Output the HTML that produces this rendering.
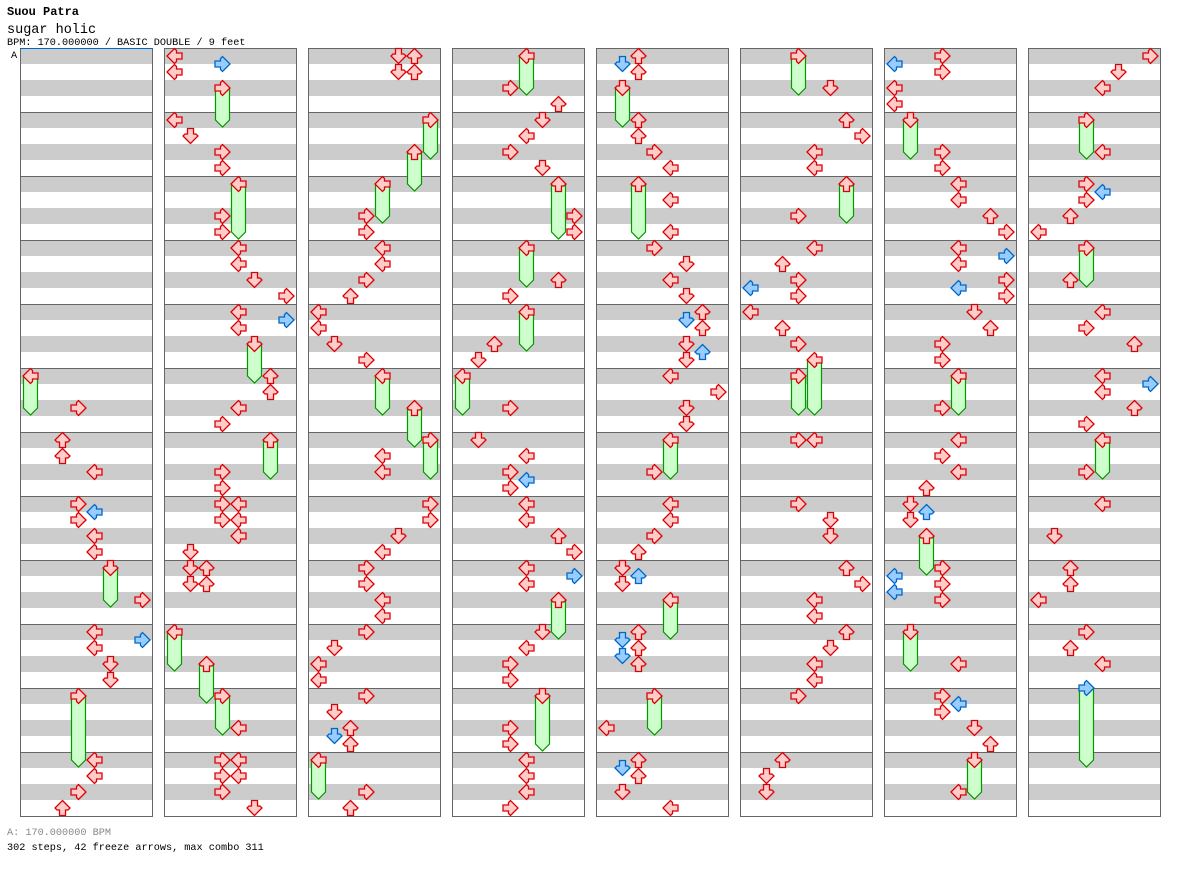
<!DOCTYPE html>
<html><head><meta charset="utf-8"><style>
html,body{margin:0;padding:0;background:#fff;}
svg{display:block;}
text{font-family:"Liberation Mono",monospace;}
</style></head><body>
<svg id="chart" width="1184" height="876" viewBox="0 0 1184 876" xmlns="http://www.w3.org/2000/svg">
<text x="7" y="15" font-size="12" font-weight="bold" fill="#000">Suou Patra</text>
<text x="7" y="33" font-size="13.5" fill="#000">sugar holic</text>
<text x="7" y="45" font-size="10.2" fill="#000">BPM: 170.000000 / BASIC DOUBLE / 9 feet</text>
<text x="11" y="58" font-size="10.2" fill="#000">A</text>
<text x="7" y="835" font-size="10.2" fill="#888">A: 170.000000 BPM</text>
<text x="7" y="850" font-size="10.2" fill="#000">302 steps, 42 freeze arrows, max combo 311</text>
<g id="cols" shape-rendering="crispEdges"></g><g id="frz"></g><g id="arr"></g>
</svg>
<script>
const noteBeats=[22,24,25,26,28,28.5,29,30,31,34,36,36.5,37,38,39,44,45,46,47,
48,48.5,49,52,53,54,55,58,59,60,61,62,63,64,64.5,65,68,69,70,71,74,75,76,76,77,77,78,79,80,80,81,81,90,92,92,93,93,94,95,
96,96,97,97,106,107,108,109,110,111,112,113,114,115,121,122,124,125,126,127,128,129,130,131,132,133,134,135,136,137,138,138.5,139,142,143,
146,147,148,149,150,151,154,155,158,159,162,163,166,168,169,170,170.5,171,172,173,174,175,176,176.5,177,180,181,182,183,186,187,188,189,190,191,
192,192.5,193,196,197,198,199,201,203,204,205,206,207,208,208.5,209,210,210.5,211,212,213,214,215,218,220,221,222,223,224,224.5,225,228,228.5,229,229.5,230,234,236,236.5,237,238,239,
242,244,245,246,247,250,252,253,254,254.5,255,256,257,258,264,264,268,269,270,272,273,274,275,276,277,278,279,280,284,285,286,
288,288.5,289,290,291,294,295,296,297,298,299,300,300.5,301,302,302.5,303,304,305,306,307,310,312,313,314,315,316,316.5,317,320,320.5,321,321.5,322,326,328,328.5,329,330,331,334,
336,337,338,342,344,344.5,345,346,347,350,352,353,354,356,356.5,357,358,359,362,364,366,368,369,370,372,373,374];
const noteLanes=[3,2,2,4,3,4,3,4,4,7,4,7,4,5,5,4,4,3,2,
0,3,0,0,1,3,3,3,3,4,4,5,7,4,7,4,6,6,4,3,3,3,3,4,3,4,4,1,1,2,1,2,4,3,4,3,4,3,5,
5,6,5,6,3,3,4,4,3,2,0,0,1,3,4,4,7,7,5,4,3,3,4,4,3,1,0,0,3,1,2,1,2,3,2,
3,6,5,4,3,5,7,7,6,3,2,1,3,1,4,3,4,3,4,4,6,7,4,7,4,5,4,3,3,3,3,4,4,4,3,
2,1,2,2,2,3,4,4,4,3,5,4,5,6,5,6,5,6,5,4,7,5,5,3,4,4,3,2,1,2,1,2,1,2,1,2,0,2,1,2,1,4,
5,6,7,4,4,3,4,2,3,0,3,0,2,3,3,4,3,5,5,6,7,4,4,6,5,4,4,3,2,1,1,
3,0,3,0,0,3,3,4,4,6,7,4,7,4,7,4,7,5,6,3,3,3,4,3,4,2,1,2,1,3,0,3,0,3,4,3,4,3,5,6,4,
7,5,4,4,3,4,3,2,0,2,4,3,6,4,7,4,6,3,3,4,1,2,2,0,3,2,4];
const freezeBeats=[20,32,40,50,56,66,72,84,86,88,100,102,104,116,118,120,140,144,152,156,160,164,178,184,194,200,216,226,232,240,248,259,260,292,308,318,324,332,340,348,360,375.5];
const freezeLanes=[0,5,3,3,4,5,6,0,2,3,7,6,4,4,6,7,0,4,6,4,4,0,6,5,1,2,4,4,3,3,6,4,3,1,4,2,1,5,3,3,4,3];
const freezeLens=[2,2,4,2,3,2,2,2,2,2,2,2,2,2,2,2,2,2,3,2,2,2,2,3,2,3,2,2,2,2,2,3,2,2,2,2,2,2,2,2,2,4.5];

const NS='http://www.w3.org/2000/svg';
const COLS=8, BEATS_PER_COL=48;
function colX(c){return 20+144*c;}
function xOf(beat,lane){return colX(Math.floor(beat/BEATS_PER_COL))+10.5+16*lane;}
function yOf(beat){return 56+16*(beat%BEATS_PER_COL);}
const rot=[-90,180,0,90,-90,180,0,90];
function mk(tag,attrs,parent){const e=document.createElementNS(NS,tag);for(const k in attrs)e.setAttribute(k,attrs[k]);parent.appendChild(e);return e;}

const cols=document.getElementById('cols');
for(let c=0;c<COLS;c++){
  const g=mk('g',{},cols);
  
  
  const x=colX(c);
  mk('rect',{x:x,y:48,width:133,height:769,fill:'#fff'},g);
  for(let s=0;s<48;s+=2){
    const r=mk('rect',{x:x,y:48+16*s,width:133,height:16,fill:'#cccccc'},g);
    
    
  }
  for(let m=1;m<12;m++){
    const l=mk('rect',{x:x,y:48+64*m,width:133,height:1,fill:'#666'},g);
    
    
  }
  mk('rect',{x:x+0.5,y:48.5,width:132,height:768,fill:'none',stroke:'#666','stroke-width':1},g);
}
const bl=mk('rect',{x:20,y:48,width:133,height:1,fill:'#0066cc'},cols);



const ARROW='M0,-7.5 L7.5,0 L5.5,2 L3,2 L3,7.5 L-3,7.5 L-3,2 L-5.5,2 L-7.5,0 Z';
function arrow(beat,lane,parent){
  const blue=(beat%1)!==0;
  const p=mk('path',{d:ARROW,transform:'translate('+xOf(beat,lane)+','+yOf(beat)+') rotate('+rot[lane]+')',
    fill:blue?'#99ccff':'#ffcccc',stroke:blue?'#0066cc':'#dd0000','stroke-width':1.3,'stroke-linejoin':'miter'},parent);
  
  
}
const frz=document.getElementById('frz'), arr=document.getElementById('arr');
for(let i=0;i<freezeBeats.length;i++){
  const b=freezeBeats[i], x=xOf(b,freezeLanes[i]), y0=yOf(b), y1=y0+16*freezeLens[i];
  const f=mk('path',{d:'M'+(x-7)+','+y0+' L'+(x+7)+','+y0+' L'+(x+7)+','+y1+' L'+x+','+(y1+7)+' L'+(x-7)+','+y1+' Z',
    fill:'#ccffcc',stroke:'#009900','stroke-width':1.2},frz);
  
  
  arrow(b,freezeLanes[i],arr);
}
for(let i=0;i<noteBeats.length;i++) arrow(noteBeats[i],noteLanes[i],arr);
</script>
</body></html>
